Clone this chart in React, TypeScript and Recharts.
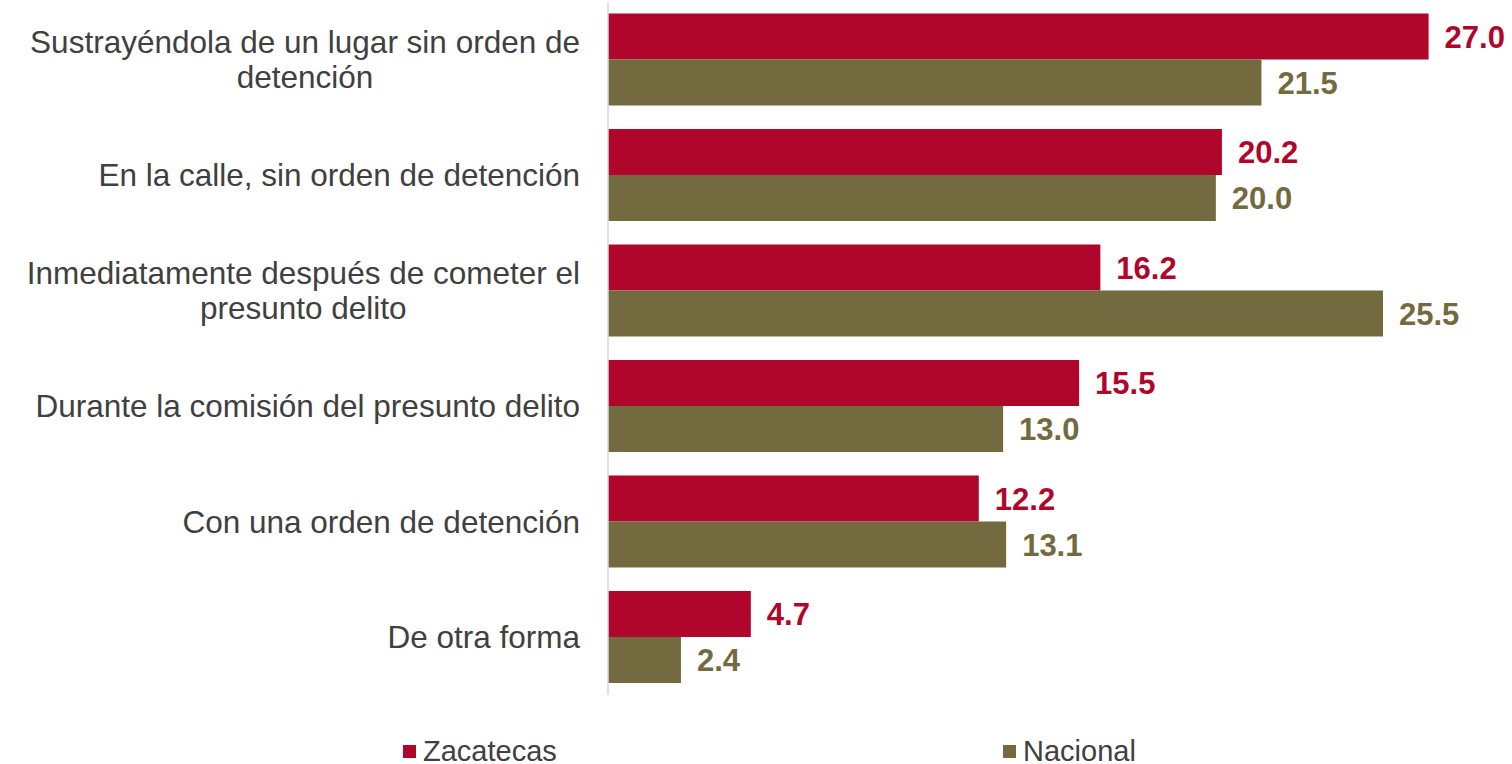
import React from 'react';
import { BarChart, Bar, XAxis, YAxis, Legend, LabelList } from 'recharts';

const categories = [
  'Sustrayéndola de un lugar sin orden de\ndetención',
  'En la calle, sin orden de detención',
  'Inmediatamente después de cometer el\npresunto delito',
  'Durante la comisión del presunto delito',
  'Con una orden de detención',
  'De otra forma',
];
const zacatecas = [27.0, 20.2, 16.2, 15.5, 12.2, 4.7];
const nacional = [21.5, 20.0, 25.5, 13.0, 13.1, 2.4];
const seriesNames = ['Zacatecas', 'Nacional'];
const seriesColors = ['#B0062C', '#736A40'];

const data = categories.map((c, i) => ({ name: c, zacatecas: zacatecas[i], nacional: nacional[i] }));

const FONT = '"Liberation Sans", Arial, sans-serif';
const TICK_SIZE = 31.5;
const TEXT_COLOR = '#404040';

let ctx: CanvasRenderingContext2D | null = null;
function measure(text: string, size: number): number {
  if (!ctx) {
    const c = document.createElement('canvas');
    ctx = c.getContext('2d');
  }
  if (!ctx) return text.length * size * 0.5;
  ctx.font = `${size}px ${FONT}`;
  return ctx.measureText(text).width;
}

const Tick = (props: any) => {
  const { x, y, payload } = props;
  const lines: string[] = String(payload.value).split('\n');
  const lh = 35;
  const startY = y - ((lines.length - 1) * lh) / 2;
  if (lines.length === 1) {
    return (
      <text x={x} y={y} dy="0.35em" textAnchor="end" fill={TEXT_COLOR} fontSize={TICK_SIZE} fontFamily={FONT}>
        {lines[0]}
      </text>
    );
  }
  const w = Math.max(...lines.map((l) => measure(l, TICK_SIZE)));
  const cx = x - w / 2;
  return (
    <g>
      {lines.map((l, i) => (
        <text key={i} x={cx} y={startY + i * lh} dy="0.35em" textAnchor="middle" fill={TEXT_COLOR} fontSize={TICK_SIZE} fontFamily={FONT}>
          {l}
        </text>
      ))}
    </g>
  );
};

const legendX = [403, 1003];

const renderLegend = () => {
  return (
    <div style={{ position: 'relative', width: 1512, height: 30, fontFamily: FONT, fontSize: 29, color: TEXT_COLOR }}>
      {seriesNames.map((name, i) => (
        <div key={i} style={{ position: 'absolute', left: legendX[i], top: 0, height: 30, display: 'flex', alignItems: 'center' }}>
          <span style={{ display: 'inline-block', width: 13, height: 13, background: seriesColors[i], marginRight: 7 }} />
          <span>{name}</span>
        </div>
      ))}
    </div>
  );
};

const fmt = (v: any) => Number(v).toFixed(1);

export default function App() {
  return (
    <div style={{ position: 'absolute', left: 0, top: 0, width: 1512, height: 764, background: '#fff' }}>
      <BarChart
        width={1512}
        height={764}
        data={data}
        layout="vertical"
        margin={{ top: 2, right: 53, bottom: 39, left: 0 }}
        barCategoryGap="10%"
        barGap={0}
      >
        <XAxis type="number" domain={[0, 28]} hide />
        <YAxis
          type="category"
          dataKey="name"
          width={608}
          axisLine={{ stroke: '#D9D9D9', strokeWidth: 1.5 }}
          tickLine={false}
          tickSize={0}
          tickMargin={28}
          tick={<Tick />}
          interval={0}
        />
        <Legend
          verticalAlign="bottom"
          content={renderLegend}
          wrapperStyle={{ left: 0, top: 736, width: 1512, height: 30 }}
        />
        <Bar dataKey="zacatecas" name={seriesNames[0]} fill={seriesColors[0]} isAnimationActive={false}>
          <LabelList dataKey="zacatecas" position="right" offset={16} formatter={fmt} fill={seriesColors[0]} fontSize={31} fontWeight="bold" fontFamily={FONT} />
        </Bar>
        <Bar dataKey="nacional" name={seriesNames[1]} fill={seriesColors[1]} isAnimationActive={false}>
          <LabelList dataKey="nacional" position="right" offset={16} formatter={fmt} fill={seriesColors[1]} fontSize={31} fontWeight="bold" fontFamily={FONT} />
        </Bar>
      </BarChart>
    </div>
  );
}
